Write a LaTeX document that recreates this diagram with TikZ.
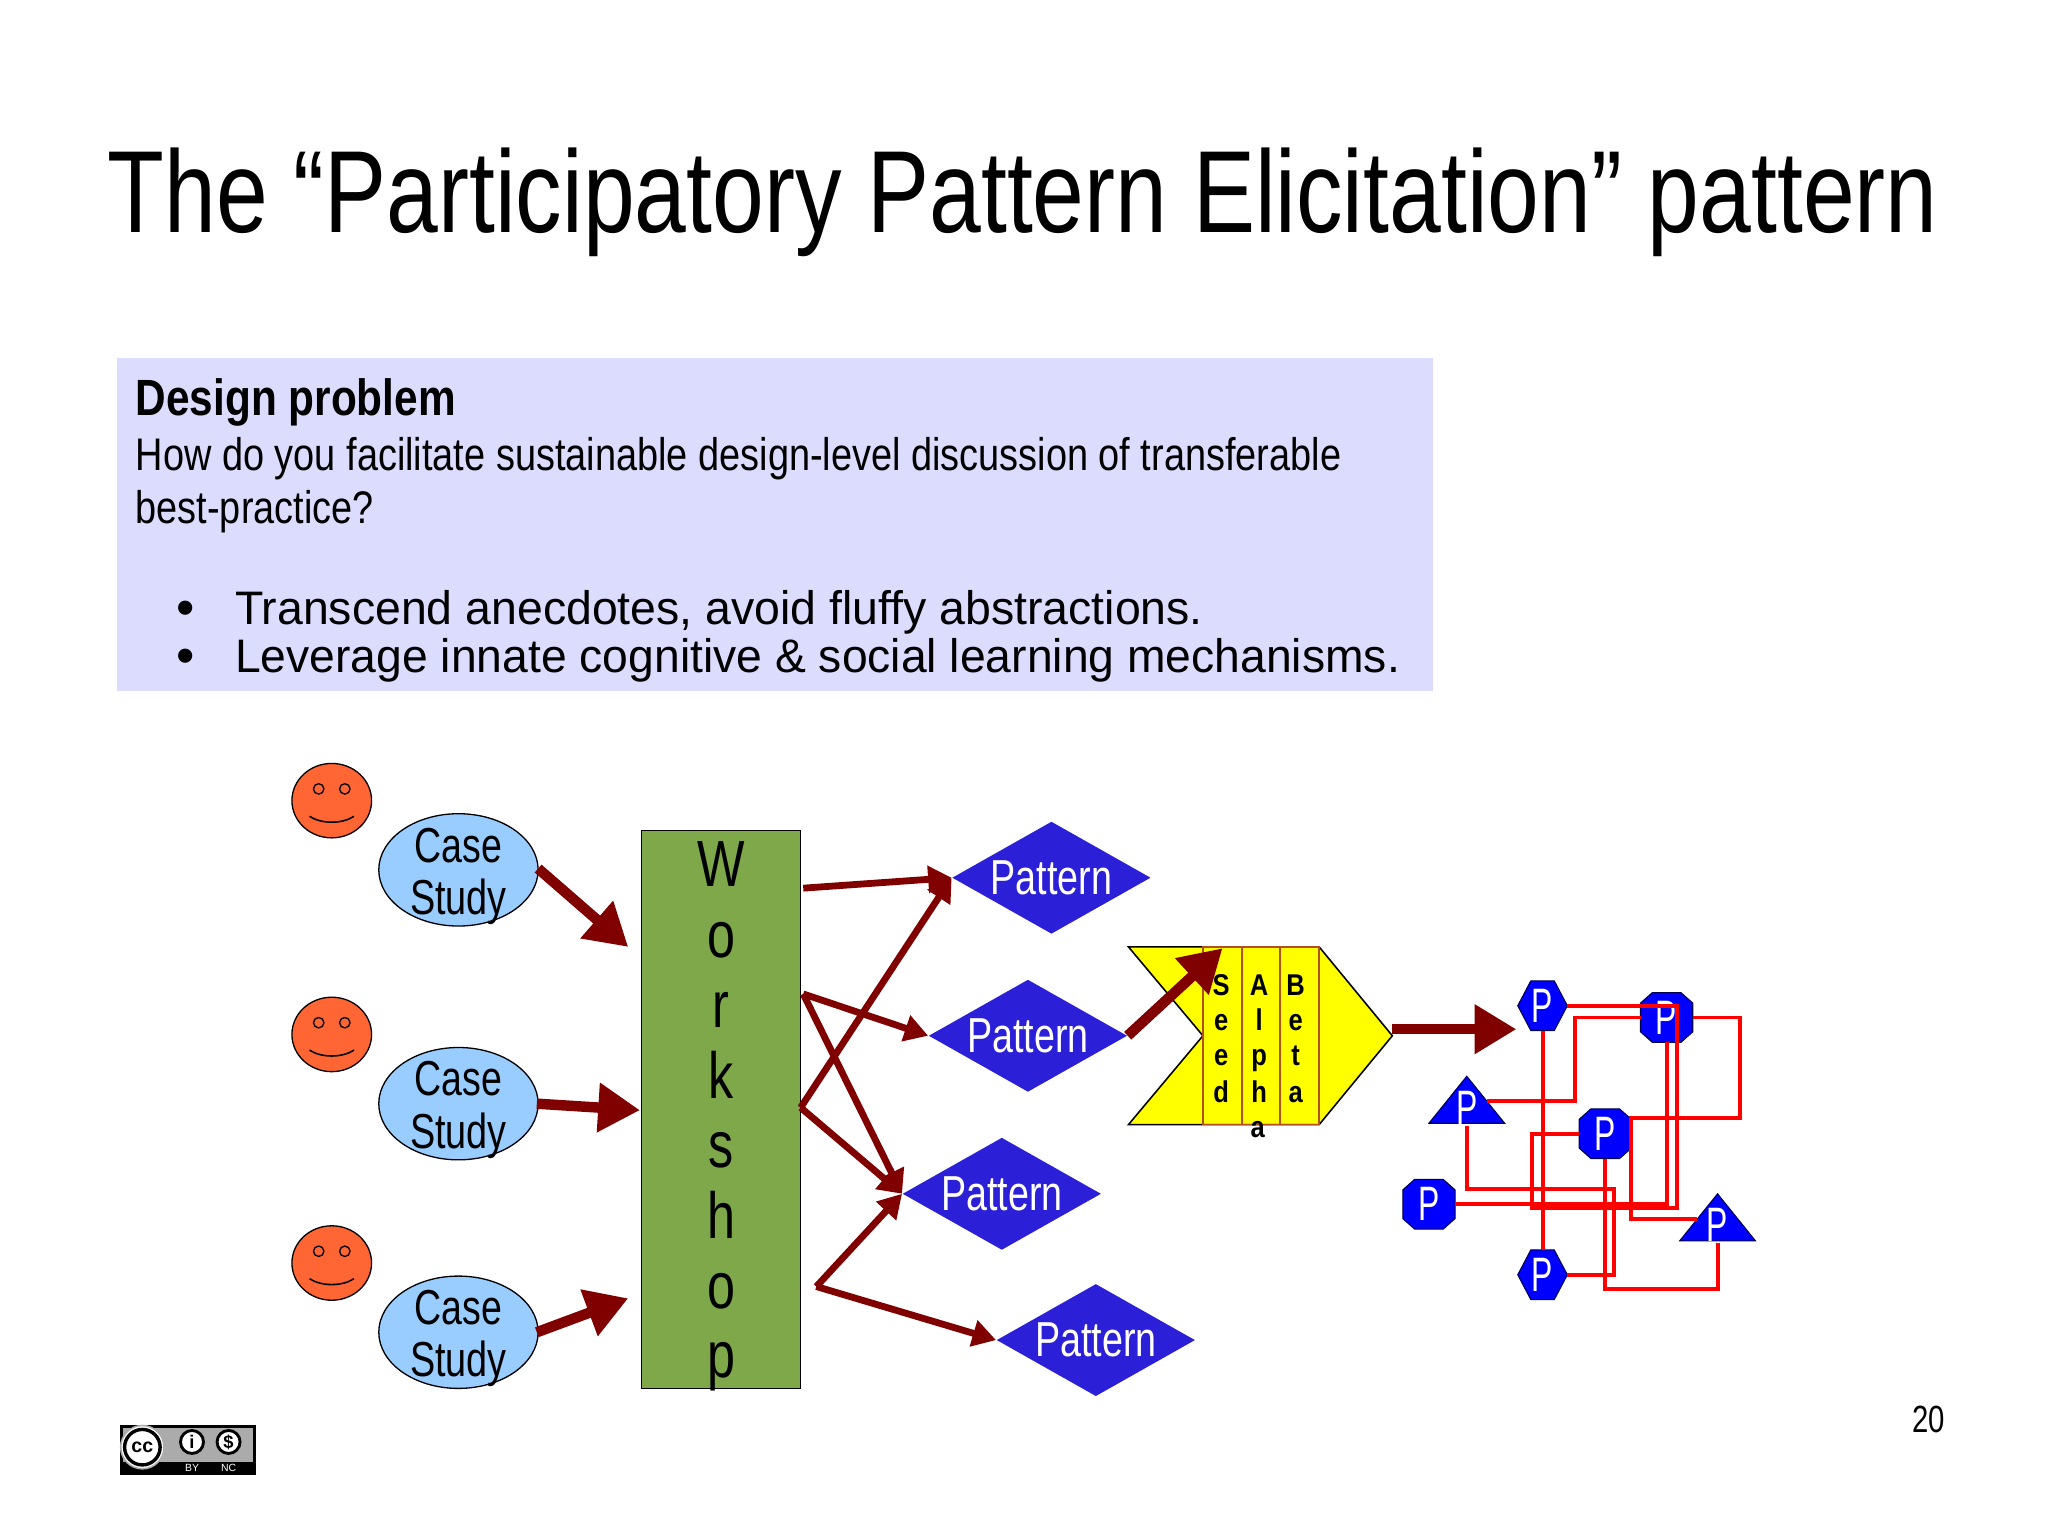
\documentclass[tikz,border=0pt]{standalone}
\usepackage{fontspec}
\usepackage{graphicx}
\setmainfont{Liberation Sans}
\usetikzlibrary{arrows.meta,shapes.geometric}
\definecolor{arrowred}{HTML}{800000}
\definecolor{panel}{HTML}{DCDCFF}
\definecolor{wsgreen}{HTML}{7FA84B}
\definecolor{casefill}{HTML}{99CCFF}
\definecolor{facefill}{HTML}{FF6633}
\definecolor{patfill}{HTML}{2B20D8}
\definecolor{stripline}{HTML}{B0501A}
\definecolor{chevfill}{HTML}{FFFF00}
\definecolor{netblue}{HTML}{0000FF}
\definecolor{wirered}{HTML}{FF0000}
\newcommand{\fs}[1]{\fontsize{#1pt}{#1pt}\selectfont}
\newcommand{\tw}[2]{\resizebox{#1pt}{\height}{#2}}
\tikzset{
  x=0.5pt,y=-0.5pt,
  txt/.style={inner sep=0pt,outer sep=0pt,anchor=base west,text=black},
  casenode/.style={ellipse,draw=black,fill=casefill,line width=0.5pt,minimum width=61pt,minimum height=43pt,inner sep=0pt},
  facenode/.style={ellipse,draw=black,fill=facefill,line width=0.5pt,minimum width=30.5pt,minimum height=28.5pt,inner sep=0pt},
  patnode/.style={diamond,fill=patfill,text=white,minimum width=76pt,minimum height=43pt,inner sep=0pt,aspect=1.77},
  bigarrow/.style={draw=arrowred,line width=4pt,-{Triangle[length=16pt,width=18pt]},shorten >=0pt},
  midarrow/.style={draw=arrowred,line width=2.6pt,-{Triangle[length=9pt,width=10pt]}},
  ptext/.style={inner sep=0pt,outer sep=0pt,text=white,font=\fs{18.5}},
  pbox/.style={inner sep=0pt,outer sep=0pt,minimum width=38*0.5pt,minimum height=38*0.5pt},
  wire/.style={draw=wirered,line width=1.5pt},
  pshape/.style={fill=netblue,draw=black!70!blue,line width=0.4pt},
  letter/.style={inner sep=0pt,outer sep=0pt,anchor=base,font=\fs{11.5}\bfseries},
  wletter/.style={inner sep=0pt,outer sep=0pt,anchor=base,font=\fs{25}},
}
\newcommand{\face}[3]{%
  \node[facenode] (#1) at (#2,#3) {};
  \draw[line width=0.5pt] (#2-10,#3-9) circle (2pt);
  \draw[line width=0.5pt] (#2+10,#3-9) circle (2pt);
  \draw[line width=0.6pt] (#2-17,#3+12) .. controls (#2-8,#3+18) and (#2+8,#3+18) .. (#2+17,#3+12);
}
\newcommand{\casestudy}[3]{%
  \node[casenode] (#1) at (#2,#3) {};
  \node[inner sep=0pt,anchor=base] (#1a) at (#2,#3-6) {\fs{18.8}\tw{33.5}{Case}};
  \node[inner sep=0pt,anchor=base] (#1b) at (#2,#3+34) {\fs{18.8}\tw{37}{Study}};
}
\newcommand{\pat}[3]{%
  \node[patnode] (#1) at (#2,#3) {\raisebox{-0.5pt}{\fs{18.8}\tw{46.5}{Pattern}}};
}
\newcommand{\Ptxt}{\scalebox{0.66}[1]{P}}
\newcommand{\hexP}[3]{%
  \fill[pshape] (#2-19,#3) -- (#2-9,#3-19) -- (#2+9,#3-19) -- (#2+19,#3) -- (#2+9,#3+19) -- (#2-9,#3+19) -- cycle;
  \node[pbox] (#1) at (#2,#3) {};
  \node[ptext] (#1t) at (#2,#3) {\Ptxt};
}
\newcommand{\octP}[3]{%
  \fill[pshape] (#2-20,#3-11) -- (#2-11,#3-19) -- (#2+11,#3-19) -- (#2+20,#3-11) -- (#2+20,#3+11) -- (#2+11,#3+19) -- (#2-11,#3+19) -- (#2-20,#3+11) -- cycle;
  \node[pbox,minimum width=20pt] (#1) at (#2,#3) {};
  \node[ptext] (#1t) at (#2,#3) {\Ptxt};
}
\newcommand{\triP}[3]{%
  \fill[pshape] (#2,#3-19) -- (#2+29,#3+17) -- (#2-29,#3+17) -- cycle;
  \node[pbox,minimum width=15.5pt] (#1) at (#2,#3) {};
  \node[ptext] (#1t) at (#2,#3+5) {\Ptxt};
}
\begin{document}
\begin{tikzpicture}
\useasboundingbox (0,0) rectangle (1568,1175.2);
\fill[white] (0,0) rectangle (1568,1175.2);
% title
\node[txt] (title) at (82.5,178) {\fs{44.7}\tw{700.5}{The “Participatory Pattern Elicitation” pattern}};
% panel
\node[fill=panel,inner sep=0pt,outer sep=0pt,minimum width=504pt,minimum height=127.5pt,anchor=north west] (panelbox) at (89.5,274) {};
\node[txt] (dp) at (104,318) {\fs{19.5}\tw{122.5}{\bfseries Design problem}};
\node[txt] (l1) at (104,360) {\fs{17.5}\tw{461.5}{How do you facilitate sustainable design-level discussion of transferable}};
\node[txt] (l2) at (104,401) {\fs{17.5}\tw{91}{best-practice?}};
\node[inner sep=0pt,anchor=base] (b1) at (142,479) {\fs{20}•};
\node[inner sep=0pt,anchor=base] (b2) at (142,516) {\fs{20}•};
\node[txt] (t1x) at (180,478) {\fs{18}\tw{370.5}{Transcend anecdotes, avoid fluffy abstractions.}};
\node[txt] (t2x) at (180,515) {\fs{18}\tw{446}{Leverage innate cognitive \& social learning mechanisms.}};
% faces
\face{f1}{254}{613}
\face{f2}{254}{792}
\face{f3}{254}{967}
% case studies
\casestudy{c1}{351}{666}
\casestudy{c2}{351}{845}
\casestudy{c3}{351}{1020}
% workshop
\node[draw=black,fill=wsgreen,line width=0.5pt,inner sep=0pt,outer sep=0pt,minimum width=61pt,minimum height=213.5pt,anchor=north west] (ws) at (491,636) {};
\node[wletter] (w1) at (552,679) {\scalebox{0.77}[1]{W}};
\node[wletter] (w2) at (552,733) {\scalebox{0.77}[1]{o}};
\node[wletter] (w3) at (552,787) {\scalebox{0.77}[1]{r}};
\node[wletter] (w4) at (552,841) {\scalebox{0.77}[1]{k}};
\node[wletter] (w5) at (552,894) {\scalebox{0.77}[1]{s}};
\node[wletter] (w6) at (552,948) {\scalebox{0.77}[1]{h}};
\node[wletter] (w7) at (552,1002) {\scalebox{0.77}[1]{o}};
\node[wletter] (w8) at (552,1055) {\scalebox{0.77}[1]{p}};
% patterns
\pat{p1}{805}{672}
\pat{p2}{787}{793}
\pat{p3}{767}{914}
\pat{p4}{839}{1026}
% chevron
\draw[fill=chevfill,draw=black,line width=0.6pt] (864,725) -- (1010,725) -- (1066,793) -- (1010,861) -- (864,861) -- (921,793) -- cycle;
\node[draw=stripline,line width=0.6pt,inner sep=0pt,outer sep=0pt,minimum width=15pt,minimum height=68pt,anchor=north west] (sA) at (921,725) {};
\node[draw=stripline,line width=0.6pt,inner sep=0pt,outer sep=0pt,minimum width=14.5pt,minimum height=68pt,anchor=north west] (sB) at (951,725) {};
\node[draw=stripline,line width=0.6pt,inner sep=0pt,outer sep=0pt,minimum width=15pt,minimum height=68pt,anchor=north west] (sC) at (980,725) {};
\node[letter] (a1) at (935,762) {\scalebox{0.85}[1]{S}};
\node[letter] (a2) at (935,789) {\scalebox{0.85}[1]{e}};
\node[letter] (a3) at (935,816) {\scalebox{0.85}[1]{e}};
\node[letter] (a4) at (935,844) {\scalebox{0.85}[1]{d}};
\node[letter] (b1x) at (964,762) {\scalebox{0.85}[1]{A}};
\node[letter] (b2x) at (964,789) {\scalebox{0.85}[1]{l}};
\node[letter] (b3x) at (964,816) {\scalebox{0.85}[1]{p}};
\node[letter] (b4x) at (964,844) {\scalebox{0.85}[1]{h}};
\node[letter] (b5x) at (963,871) {\scalebox{0.85}[1]{a}};
\node[letter] (c1x) at (992,762) {\scalebox{0.85}[1]{B}};
\node[letter] (c2x) at (992,789) {\scalebox{0.85}[1]{e}};
\node[letter] (c3x) at (992,816) {\scalebox{0.85}[1]{t}};
\node[letter] (c4x) at (992,844) {\scalebox{0.85}[1]{a}};
% arrow endpoints
\coordinate (c1out) at (412,665);
\coordinate (wsin1) at (481,725);
\coordinate (c2out) at (411,845);
\coordinate (wsin2) at (490,850);
\coordinate (c3out) at (411,1020);
\coordinate (wsin3) at (481,994);
\coordinate (wsa) at (615,680);
\coordinate (wsb) at (615,761);
\coordinate (wsc) at (613,848);
\coordinate (wsd) at (625,985);
\coordinate (chin) at (936,726);
\coordinate (chout) at (1066,788);
\coordinate (netin) at (1161,788);
\draw[bigarrow] (c1out) -- (wsin1);
\draw[bigarrow] (c2out) -- (wsin2);
\draw[bigarrow] (c3out) -- (wsin3);
\draw[midarrow] (wsa) -- (p1.west);
\draw[midarrow] (wsc) -- (p1.west);
\draw[midarrow] (wsb) -- (p2.west);
\draw[midarrow] (wsb) -- (p3.west);
\draw[midarrow] (wsc) -- (p3.west);
\draw[midarrow] (wsd) -- (p3.west);
\draw[midarrow] (wsd) -- (p4.west);
\draw[bigarrow] (p2.east) -- (chin);
\draw[bigarrow] (chout) -- (netin);
% P network
\hexP{n1}{1181}{770}
\octP{n2}{1276}{779}
\triP{n3}{1123}{843}
\octP{n4}{1229}{868}
\octP{n5}{1094}{922}
\hexP{n6}{1181}{976}
\triP{n7}{1315}{933}
\draw[wire] (n1.east) -- (1284,770) -- (1284,925) -- (1173,925) -- (1173,868) -- (n4.west);
\draw[wire] (n3.east) -- (1206,843) -- (1206,779) -- (n2.west);
\draw[wire] (n2.east) -- (1332,779) -- (1332,856) -- (1249,856) -- (1249,933) -- (n7.west);
\draw[wire] (n1.south) -- (n6.north);
\draw[wire] (n3.south) -- (1123,910) -- (1236,910) -- (1236,976) -- (n6.east);
\draw[wire] (n5.east) -- (1276,922) -- (n2.south);
\draw[wire] (n4.south) -- (1229,987) -- (1315,987) -- (n7.south);
% page number
\node[txt] (pg) at (1464,1097) {\fs{14.5}\tw{12.5}{20}};
% licence badge
\fill[black] (92,1091) rectangle (196,1129);
\fill[black!33] (94,1093) rectangle (194,1119);
\draw[fill=white,draw=black!33,line width=0.6pt] (109,1108) circle (8.3pt);
\draw[fill=white,draw=black,line width=1.3pt] (109,1108) circle (6.8pt);
\node[inner sep=0pt] (cc) at (109,1108) {\fs{7.5}\bfseries cc};
\draw[fill=white,draw=black,line width=1.1pt] (147,1104) circle (4.4pt);
\node[inner sep=0pt] (by) at (147,1104) {\fs{7}\bfseries i};
\draw[fill=white,draw=black,line width=1.1pt] (175,1104) circle (4.4pt);
\node[inner sep=0pt] (nc) at (175,1104) {\fs{7}\bfseries\$};
\node[inner sep=0pt,text=white] (bytext) at (147,1124) {\fs{4}BY};
\node[inner sep=0pt,text=white] (nctext) at (175,1124) {\fs{4}NC};
\end{tikzpicture}
\end{document}
